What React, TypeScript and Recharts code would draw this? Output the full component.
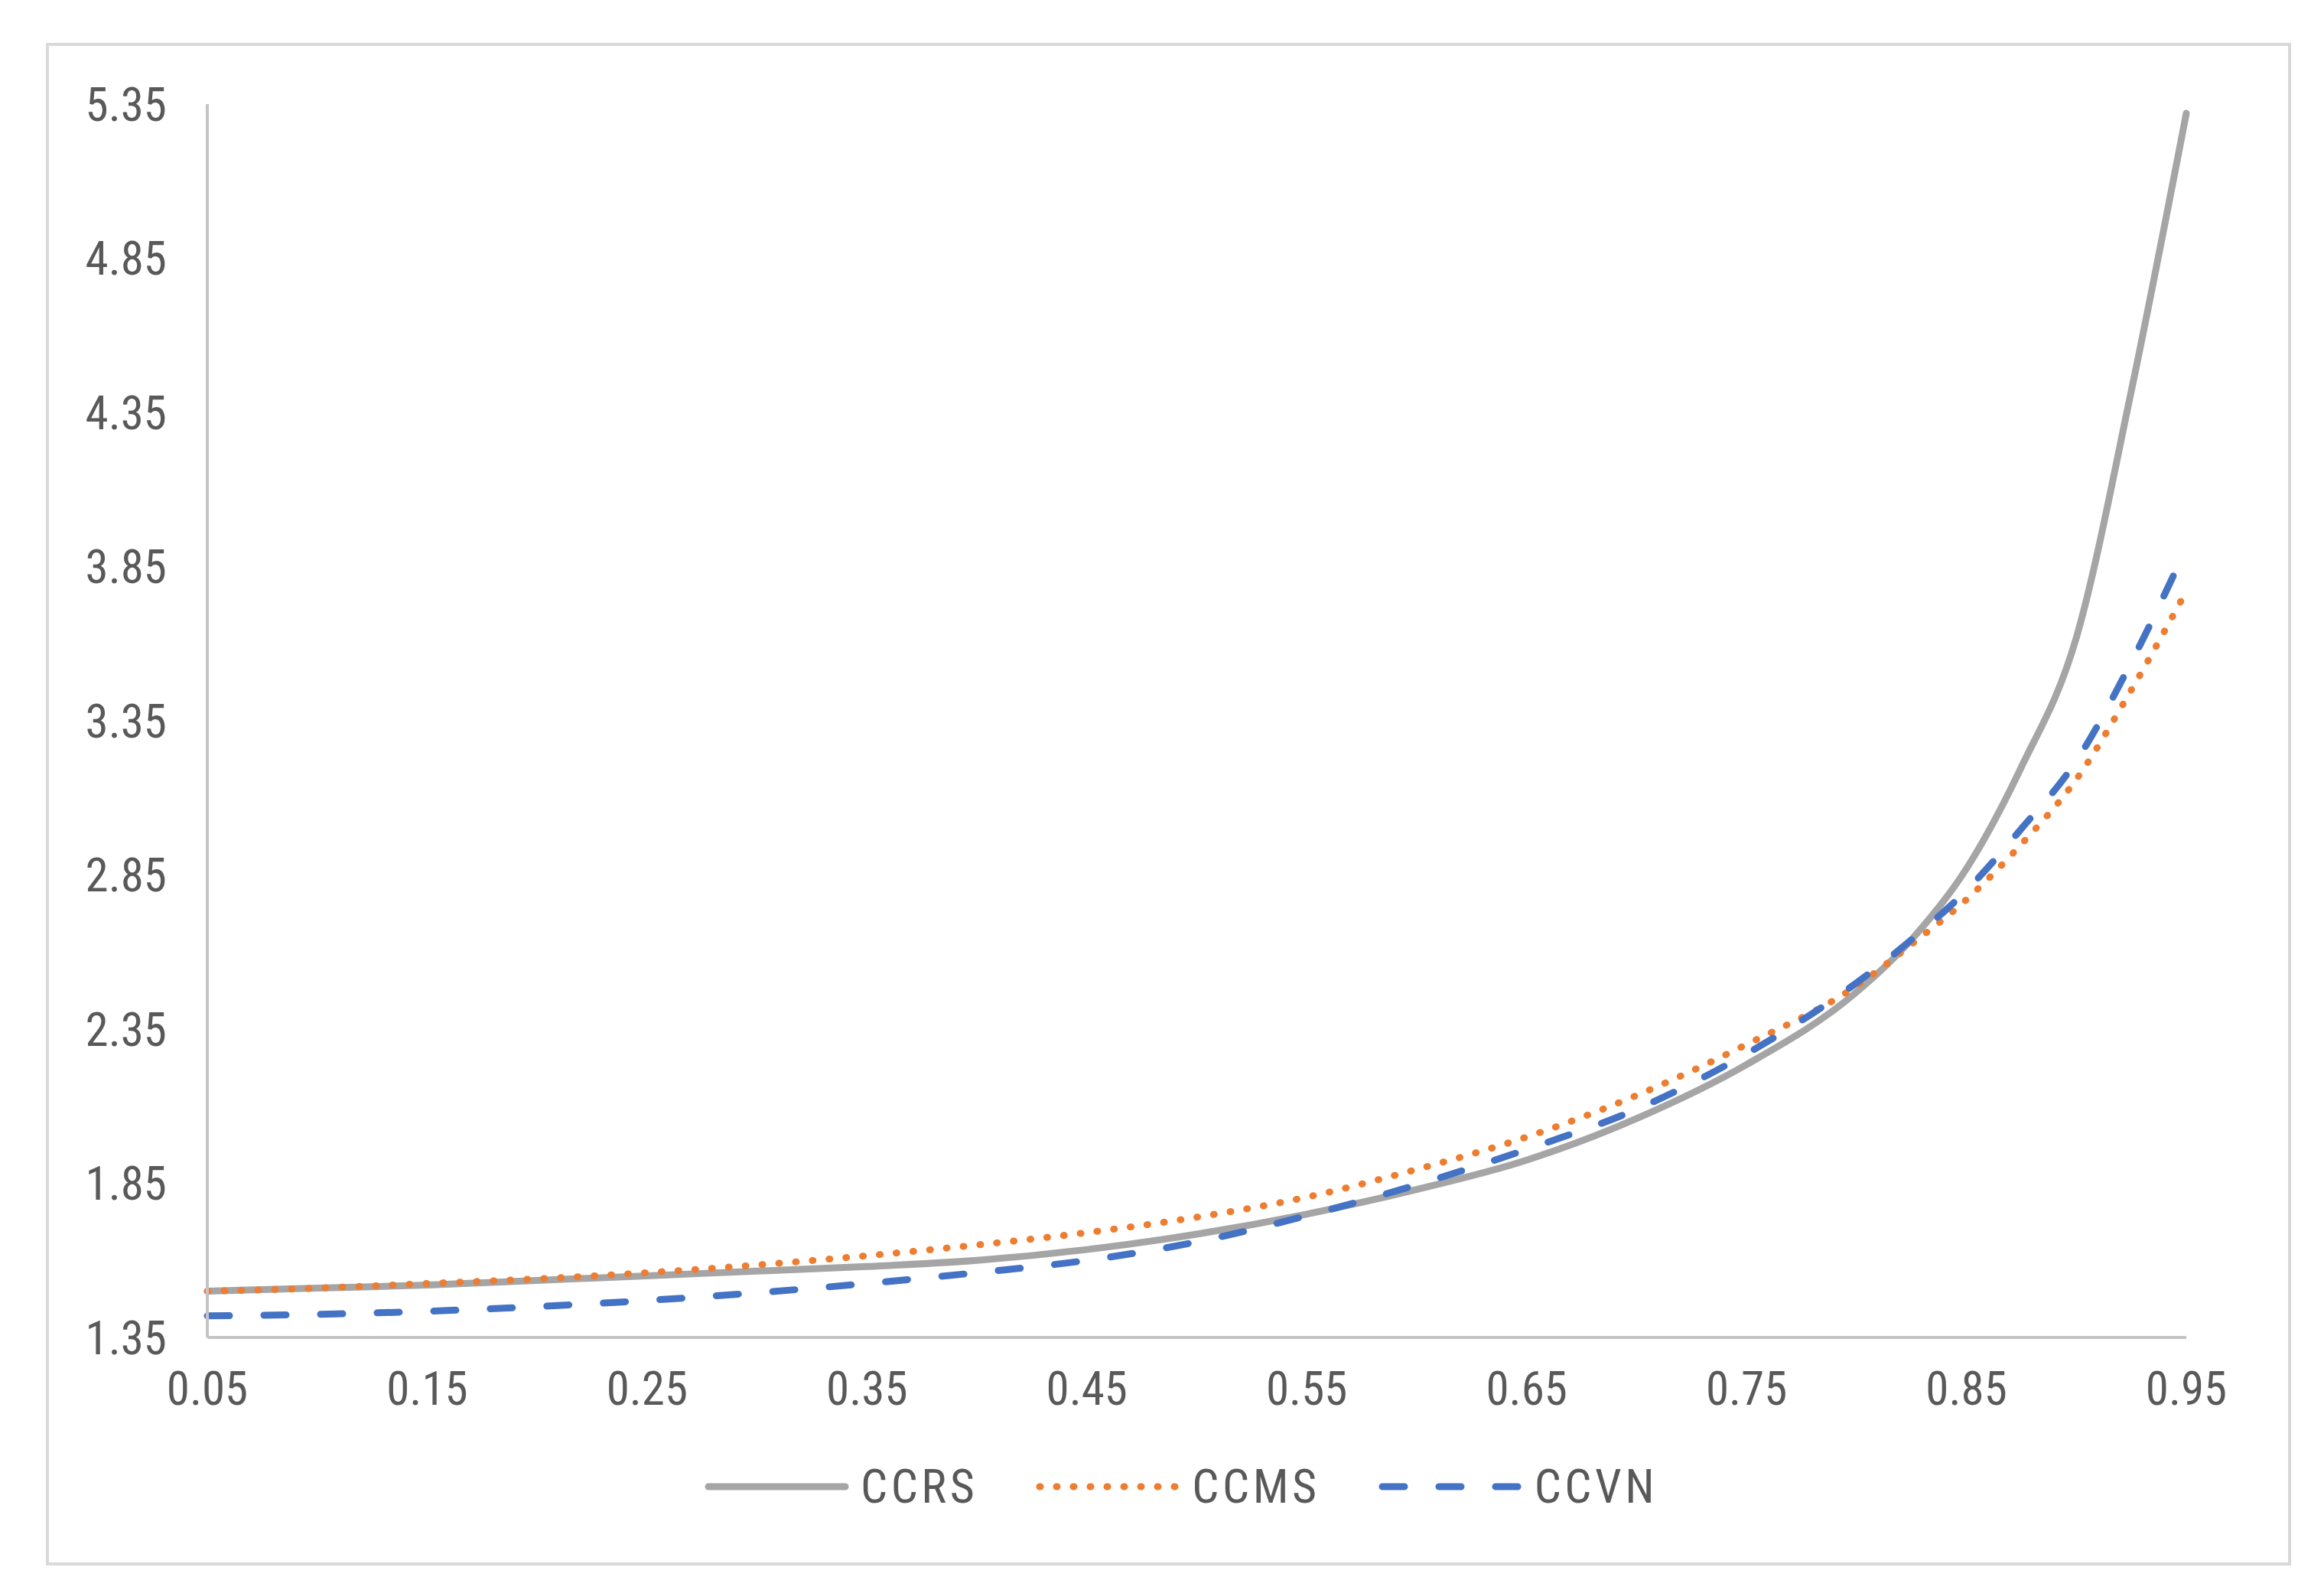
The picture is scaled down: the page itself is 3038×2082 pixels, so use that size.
import React from 'react';
import { LineChart, Line, XAxis, YAxis, Legend } from 'recharts';

const xValues = [0.05, 0.1, 0.15, 0.2, 0.25, 0.3, 0.35, 0.4, 0.45, 0.5, 0.55, 0.6, 0.65, 0.7, 0.75, 0.8, 0.825, 0.85, 0.875, 0.9, 0.925, 0.95];
const ccrs = [1.5, 1.51, 1.52, 1.535, 1.55, 1.565, 1.58, 1.6, 1.635, 1.685, 1.75, 1.83, 1.925, 2.06, 2.235, 2.47, 2.64, 2.87, 3.2, 3.62, 4.42, 5.32];
const ccms = [1.5, 1.51, 1.525, 1.54, 1.56, 1.585, 1.615, 1.65, 1.69, 1.74, 1.805, 1.895, 2.0, 2.135, 2.3, 2.49, 2.625, 2.77, 2.95, 3.16, 3.45, 3.77];
const ccvn = [1.42, 1.425, 1.435, 1.45, 1.47, 1.495, 1.525, 1.56, 1.6, 1.66, 1.745, 1.845, 1.96, 2.09, 2.27, 2.5, 2.64, 2.8, 3.0, 3.22, 3.54, 3.91];

const xTicks = [0.05, 0.15, 0.25, 0.35, 0.45, 0.55, 0.65, 0.75, 0.85, 0.95];
const yTicks = [1.35, 1.85, 2.35, 2.85, 3.35, 3.85, 4.35, 4.85, 5.35];
const seriesOrder = ['CCRS', 'CCMS', 'CCVN'];

const rows = xValues.map((p, i) => ({ p, CCRS: ccrs[i], CCMS: ccms[i], CCVN: ccvn[i] }));

const FONT = '"Liberation Sans Narrow", "Roboto Condensed", Roboto, sans-serif';
const tickStyle = { fill: '#595959', fontSize: 61, fontFamily: FONT };

const seriesStyle: Record<string, { color: string; dash?: string }> = {
  CCRS: { color: '#A5A5A5' },
  CCMS: { color: '#ED7D31', dash: '1 21' },
  CCVN: { color: '#4472C4', dash: '29 45' },
};

function LegendRow(props: any) {
  const items = [...(props.payload || [])].sort(
    (a: any, b: any) => seriesOrder.indexOf(a.value) - seriesOrder.indexOf(b.value)
  );
  return (
    <div style={{ display: 'flex', alignItems: 'center', fontFamily: FONT, fontSize: 62, color: '#595959', letterSpacing: '4.5px' }}>
      {items.map((it: any, i: number) => {
        const s = seriesStyle[it.value];
        return (
          <div key={it.value} style={{ display: 'flex', alignItems: 'center', marginLeft: i === 0 ? 0 : 76 }}>
            <svg width={190} height={20}>
              <line
                x1={5}
                y1={10}
                x2={184}
                y2={10}
                stroke={s.color}
                strokeWidth={9}
                strokeLinecap="round"
                strokeDasharray={s.dash}
              />
            </svg>
            <span style={{ marginLeft: 14, lineHeight: 1 }}>{it.value}</span>
          </div>
        );
      })}
    </div>
  );
}

export default function App() {
  return (
    <div style={{ position: 'absolute', left: 0, top: 0, width: 3038, height: 2082, background: '#fff' }}>
      <div
        style={{
          position: 'absolute',
          left: 60,
          top: 56,
          width: 2935,
          height: 1990,
          border: '4px solid #D9D9D9',
          boxSizing: 'border-box',
        }}
      />
      <div style={{ position: 'absolute', left: 0, top: 0 }}>
        <LineChart width={3038} height={2082} data={rows} margin={{ top: 136, right: 180, bottom: 304, left: 0 }}>
          <XAxis
            dataKey="p"
            type="number"
            domain={[0.05, 0.95]}
            ticks={xTicks}
            tickFormatter={(v: number) => v.toFixed(2)}
            stroke="#C4C4C4"
            strokeWidth={4}
            tickLine={false}
            tickSize={0}
            tickMargin={45}
            tick={tickStyle}
            interval={0}
            height={30}
          />
          <YAxis
            type="number"
            domain={[1.35, 5.35]}
            ticks={yTicks}
            tickFormatter={(v: number) => v.toFixed(2)}
            width={271}
            stroke="#C4C4C4"
            strokeWidth={4}
            tickLine={false}
            tickSize={0}
            tickMargin={53}
            tick={tickStyle}
            interval={0}
          />
          <Legend
            layout="horizontal"
            verticalAlign="middle"
            align="center"
            content={LegendRow}
            wrapperStyle={{ position: 'absolute', left: 921, top: 1912, width: 'auto', height: 'auto' }}
          />
          <Line type="monotone" dataKey="CCRS" stroke="#A5A5A5" strokeWidth={9} strokeLinecap="round" dot={false} activeDot={false} isAnimationActive={false} />
          <Line type="monotone" dataKey="CCMS" stroke="#ED7D31" strokeWidth={9} strokeLinecap="round" strokeDasharray="1 21" dot={false} activeDot={false} isAnimationActive={false} />
          <Line type="monotone" dataKey="CCVN" stroke="#4472C4" strokeWidth={9} strokeLinecap="round" strokeDasharray="29 45" dot={false} activeDot={false} isAnimationActive={false} />
        </LineChart>
      </div>
    </div>
  );
}
